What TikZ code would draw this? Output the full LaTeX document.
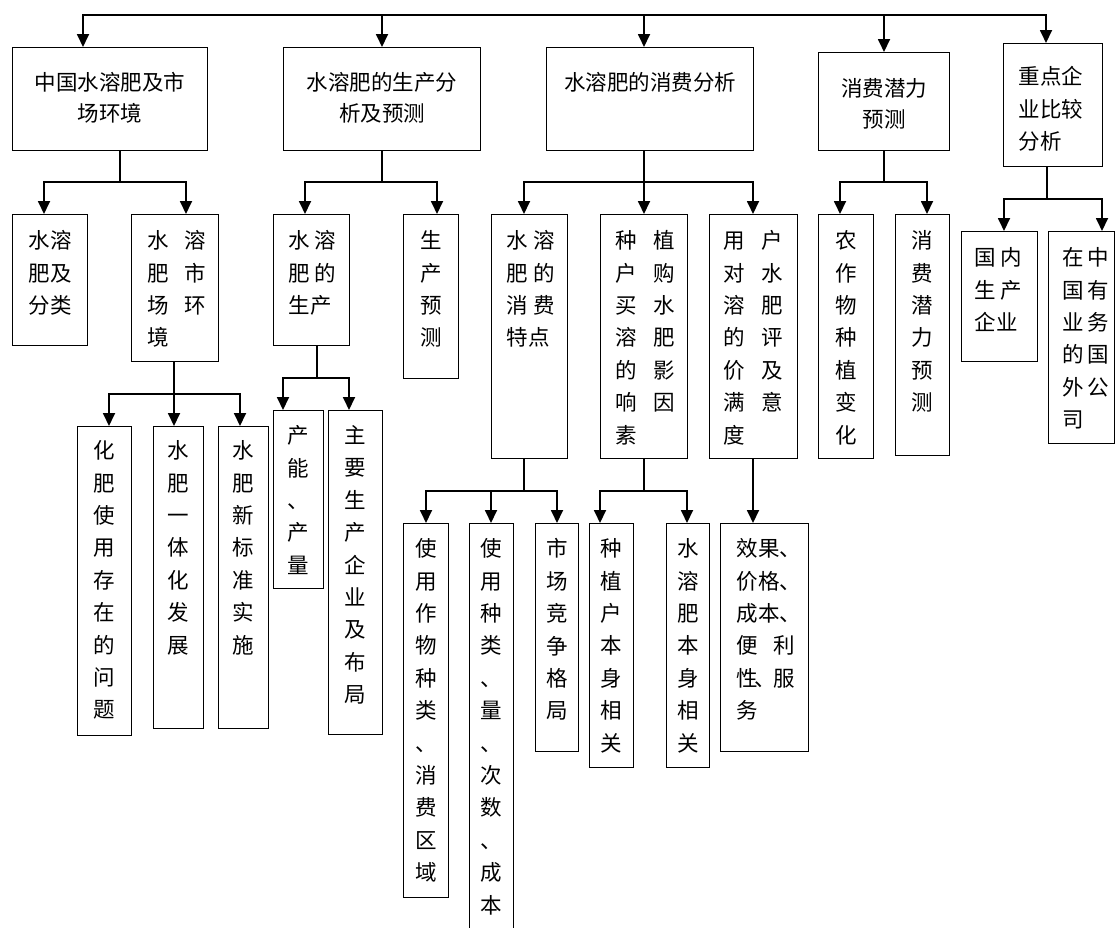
\documentclass[tikz,border=0pt]{standalone}
\usepackage{fontspec}
\newfontfamily\zhfont{Noto Sans CJK SC}
\usetikzlibrary{arrows.meta}

\tikzstyle{cell}=[draw,line width=1.2pt,inner sep=0pt,anchor=north west,font=\zhfont\fontsize{21.5pt}{32.4pt}\selectfont]
\tikzstyle{edge} = [draw,line width=1.8pt,line cap=rect,-]
\tikzstyle{tree edge} = [draw,line width=1.8pt,-{Triangle[length=13pt,width=12pt]}]

% width, height, top gap, left indent, lines
\newcommand{\boxtxt}[5]{\parbox[t][#2pt][t]{#1pt}{\raggedright\leftskip=#4pt\relax\vspace*{#3pt}#5}}

\begin{document}
\begin{tikzpicture}[x=1pt,y=-1pt]
		\useasboundingbox (0,0) rectangle (1115,927);
		% first row
		\node[cell] (b1) at (12,47) {\boxtxt{195}{103}{25}{0}{\centering\baselineskip=31pt 中国水溶肥及市\\场环境}};
		\node[cell] (b2) at (283,47) {\boxtxt{197}{103}{25}{0}{\centering\baselineskip=31pt 水溶肥的生产分\\析及预测}};
		\node[cell] (b3) at (546,47) {\boxtxt{207}{103}{25}{0}{\centering 水溶肥的消费分析}};
		\node[cell] (b4) at (818,52) {\boxtxt{131}{98}{26}{0}{\centering\baselineskip=31pt 消费潜力\\预测}};
		\node[cell] (b5) at (1003,43) {\boxtxt{99}{123}{23}{15}{\baselineskip=32.5pt 重点企\\业比较\\分析}};
		% second row
		\node[cell] (b1a) at (12,214) {\boxtxt{75}{131}{16}{0}{\centering 水溶\\肥及\\分类}};
		\node[cell] (b1b) at (131,214) {\boxtxt{87}{147}{16}{16}{水\hspace{15pt}溶\\肥\hspace{15pt}市\\场\hspace{15pt}环\\境}};
		\node[cell] (b2a) at (273,214) {\boxtxt{76}{131}{16}{15}{水\hspace{4pt}溶\\肥\hspace{4pt}的\\生产}};
		\node[cell] (b2b) at (403,214) {\boxtxt{55}{164}{16}{0}{\centering 生\\产\\预\\测}};
		\node[cell] (b3a) at (491,214) {\boxtxt{76}{244}{16}{15}{水\hspace{5pt}溶\\肥\hspace{5pt}的\\消\hspace{5pt}费\\特点}};
		\node[cell] (b3b) at (600,214) {\boxtxt{87}{244}{16}{15}{种\hspace{16pt}植\\户\hspace{16pt}购\\买\hspace{16pt}水\\溶\hspace{16pt}肥\\的\hspace{16pt}影\\响\hspace{16pt}因\\素}};
		\node[cell] (b3c) at (709,214) {\boxtxt{88}{244}{16}{14}{用\hspace{16pt}户\\对\hspace{16pt}水\\溶\hspace{16pt}肥\\的\hspace{16pt}评\\价\hspace{16pt}及\\满\hspace{16pt}意\\度}};
		\node[cell] (b4a) at (818,214) {\boxtxt{55}{244}{16}{0}{\centering 农\\作\\物\\种\\植\\变\\化}};
		\node[cell] (b4b) at (895,214) {\boxtxt{54}{241}{16}{0}{\centering 消\\费\\潜\\力\\预\\测}};
		\node[cell] (b5a) at (961,231) {\boxtxt{76}{130}{16}{13}{国\hspace{4pt}内\\生\hspace{4pt}产\\企业}};
		\node[cell] (b5b) at (1048,231) {\boxtxt{66}{212}{16}{14}{在\hspace{3.5pt}中\\国\hspace{3.5pt}有\\业\hspace{3.5pt}务\\的\hspace{3.5pt}国\\外\hspace{3.5pt}公\\司}};
		% third row
		\node[cell] (c1) at (77,426) {\boxtxt{54}{309}{14}{0}{\centering 化\\肥\\使\\用\\存\\在\\的\\问\\题}};
		\node[cell] (c2) at (153,426) {\boxtxt{50}{302}{14}{0}{\centering 水\\肥\\一\\体\\化\\发\\展}};
		\node[cell] (c3) at (218,426) {\boxtxt{50}{302}{14}{0}{\centering 水\\肥\\新\\标\\准\\实\\施}};
		\node[cell] (c4) at (273,410) {\boxtxt{50}{178}{15}{0}{\centering 产\\能\\、\\产\\量}};
		\node[cell] (c5) at (328,410) {\boxtxt{54}{324}{15}{0}{\centering 主\\要\\生\\产\\企\\业\\及\\布\\局}};
		% fourth row
		\node[cell] (d1) at (403,523) {\boxtxt{45}{374}{15}{0}{\centering 使\\用\\作\\物\\种\\类\\、\\消\\费\\区\\域}};
		\node[cell] (d2) at (469,523) {\boxtxt{44}{420}{15}{0}{\centering 使\\用\\种\\类\\、\\量\\、\\次\\数\\、\\成\\本}};
		\node[cell] (d3) at (535,523) {\boxtxt{43}{228}{15}{0}{\centering 市\\场\\竞\\争\\格\\局}};
		\node[cell] (d4) at (589,523) {\boxtxt{44}{244}{15}{0}{\centering 种\\植\\户\\本\\身\\相\\关}};
		\node[cell] (d5) at (666,523) {\boxtxt{43}{244}{15}{0}{\centering 水\\溶\\肥\\本\\身\\相\\关}};
		\node[cell] (d6) at (720,523) {\boxtxt{88}{228}{15}{16}{效果、\\价格、\\成本、\\便\hspace{15pt}利\\性\kern-4pt、\kern-2pt服\\务}};
		% bus points
		\coordinate (t1) at (83,15);
		\coordinate (t2) at (382,15);
		\coordinate (t3) at (644,15);
		\coordinate (t4) at (884,15);
		\coordinate (t5) at (1046,15);
		\coordinate (s1) at (120,182); \coordinate (p1a) at (44,182); \coordinate (p1b) at (186,182);
		\coordinate (s2) at (382,182); \coordinate (p2a) at (305,182); \coordinate (p2b) at (437,182);
		\coordinate (s3) at (644,182); \coordinate (p3a) at (524,182); \coordinate (p3c) at (753,182);
		\coordinate (s4) at (884,182); \coordinate (p4a) at (840,182); \coordinate (p4b) at (927,182);
		\coordinate (s5) at (1047,199); \coordinate (p5a) at (1004,199); \coordinate (p5b) at (1102,199);
		\coordinate (s6) at (174,394); \coordinate (p6a) at (109,394); \coordinate (p6c) at (240,394);
		\coordinate (s7) at (317,378); \coordinate (p7a) at (283,378); \coordinate (p7b) at (349,378);
		\coordinate (s8) at (524,491); \coordinate (p8a) at (426,491); \coordinate (p8b) at (491,491); \coordinate (p8c) at (557,491);
		\coordinate (s9) at (644,491); \coordinate (p9a) at (600,491); \coordinate (p9b) at (687,491);
		\coordinate (s10) at (753,458);
		% top line and stems
		\path[edge] (t1) -- (t5);
		\foreach \stem/\parent in {s1/b1,s2/b2,s3/b3,s4/b4,s5/b5,s6/b1b,s7/b2a,s8/b3a,s9/b3b}
		 \path[edge] (\stem |- \parent.south) -- (\stem);
		\foreach \busa/\busb in {p1a/p1b,p2a/p2b,p3a/p3c,p4a/p4b,p5a/p5b,p6a/p6c,p7a/p7b,p8a/p8c,p9a/p9b}
		 \path[edge] (\busa) -- (\busb);
		% arrows down to the boxes
		\foreach \source/\dest in {t1/b1,t2/b2,t3/b3,t4/b4,t5/b5,p1a/b1a,p1b/b1b,p2a/b2a,p2b/b2b,p3a/b3a,s3/b3b,p3c/b3c,p4a/b4a,p4b/b4b,p5a/b5a,p5b/b5b,p6a/c1,s6/c2,p6c/c3,p7a/c4,p7b/c5,p8a/d1,p8b/d2,p8c/d3,p9a/d4,p9b/d5}
		 \path[tree edge] (\source) -- (\source |- \dest.north);
		\path[tree edge] (s10 |- b3c.south) -- (s10 |- d6.north);
\end{tikzpicture}
\end{document}
